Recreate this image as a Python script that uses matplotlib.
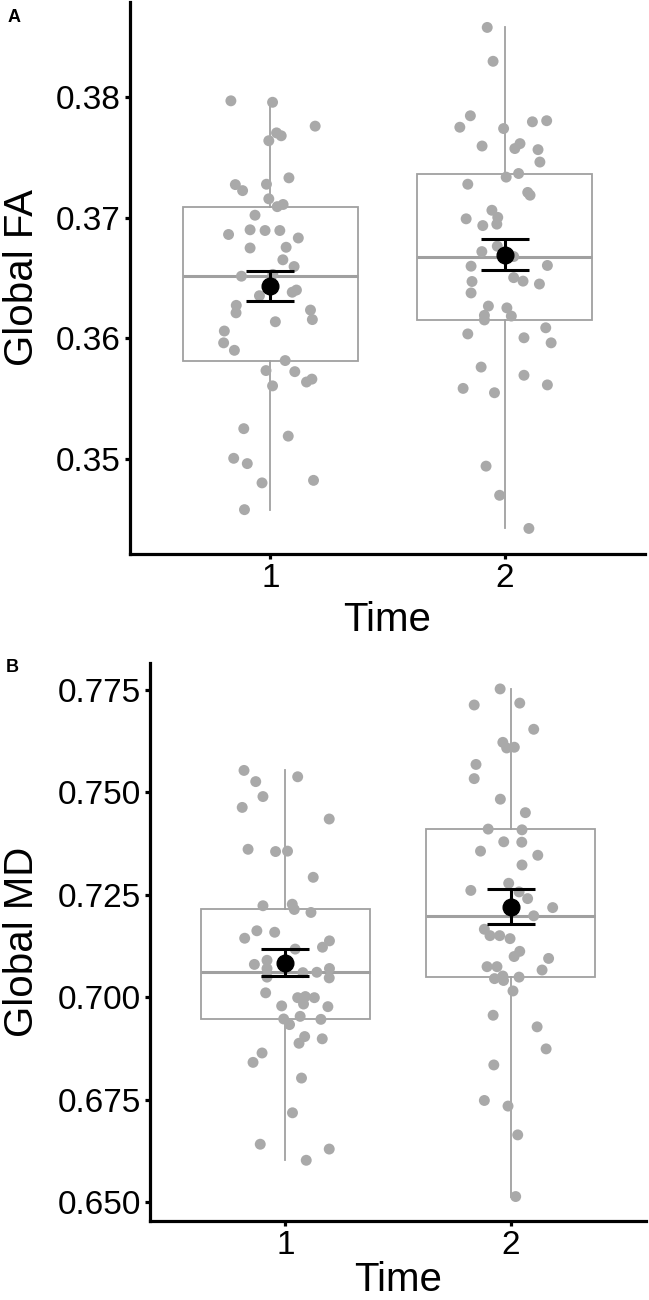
import numpy as np
import matplotlib.pyplot as plt

plt.rcParams['font.family'] = ['Liberation Sans', 'DejaVu Sans']

times = ['1', '2']

# Global FA, time 1 / time 2 (values and horizontal jitter)
fa_t1 = [0.37970, 0.37958, 0.37760, 0.37704, 0.37680, 0.37639, 0.37331, 0.37275, 0.37225, 0.37278,
         0.37157, 0.37092, 0.37110, 0.37021, 0.36861, 0.36900, 0.36894, 0.36894, 0.36832, 0.36749,
         0.36755, 0.36651, 0.36595, 0.36515, 0.36353, 0.36382, 0.36400, 0.36273, 0.36211, 0.36234,
         0.36155, 0.36137, 0.36060, 0.35962, 0.35900, 0.35815, 0.35732, 0.35723, 0.35637, 0.35661,
         0.35605, 0.35250, 0.35188, 0.35004, 0.34960, 0.34800, 0.34821, 0.34578, 0.36530]
fa_t1_jit = [-0.169, 0.009, 0.191, 0.026, 0.046, -0.007, 0.079, -0.150, -0.119, -0.017,
             -0.007, 0.029, 0.054, -0.066, -0.179, -0.087, -0.023, 0.040, 0.119, -0.087,
             0.067, 0.053, 0.101, -0.124, -0.047, 0.093, 0.111, -0.146, -0.147, 0.171,
             0.179, 0.021, -0.197, -0.200, -0.154, 0.063, -0.019, 0.104, 0.154, 0.177,
             0.009, -0.114, 0.076, -0.157, -0.099, -0.036, 0.184, -0.111, 0.010]
fa_t2 = [0.38579, 0.38298, 0.37846, 0.37751, 0.37740, 0.37796, 0.37805, 0.37595, 0.37574, 0.37615,
         0.37565, 0.37462, 0.37337, 0.37367, 0.37278, 0.37210, 0.37187, 0.37062, 0.37003, 0.36947,
         0.36991, 0.36935, 0.36764, 0.36719, 0.36678, 0.36598, 0.36604, 0.36503, 0.36474, 0.36450,
         0.36471, 0.36376, 0.36267, 0.36252, 0.36190, 0.36152, 0.36184, 0.36087, 0.36036, 0.36004,
         0.35962, 0.35761, 0.35693, 0.35613, 0.35584, 0.35548, 0.34939, 0.34697, 0.34422]
fa_t2_jit = [-0.074, -0.049, -0.146, -0.191, -0.004, 0.119, 0.180, -0.096, 0.044, 0.066,
             0.143, 0.151, 0.007, 0.060, -0.157, 0.099, 0.109, -0.054, -0.029, -0.033,
             -0.164, -0.093, -0.031, -0.097, 0.039, -0.143, 0.183, 0.039, 0.079, 0.149,
             -0.139, -0.143, -0.069, 0.010, -0.086, -0.086, 0.029, 0.176, -0.157, 0.083,
             0.199, -0.100, 0.083, 0.183, -0.177, -0.043, -0.079, -0.021, 0.104]

# Global MD, time 1 / time 2
md_t1 = [0.75538, 0.75383, 0.75265, 0.74900, 0.74635, 0.74352, 0.73613, 0.73558, 0.73568, 0.72929,
         0.72235, 0.72272, 0.72144, 0.72071, 0.71624, 0.71588, 0.71442, 0.71378, 0.71223, 0.71177,
         0.70803, 0.70903, 0.70703, 0.70493, 0.70602, 0.70611, 0.70703, 0.70474, 0.70109, 0.69991,
         0.70018, 0.69991, 0.69836, 0.69790, 0.69772, 0.69471, 0.69535, 0.69334, 0.69462, 0.69042,
         0.68878, 0.68987, 0.68641, 0.68412, 0.68029, 0.67181, 0.66414, 0.66296, 0.66022]
md_t1_jit = [-0.183, 0.055, -0.131, -0.099, -0.191, 0.195, -0.165, -0.043, 0.010, 0.124,
             -0.099, 0.031, 0.040, 0.114, -0.126, -0.047, -0.180, 0.196, 0.165, 0.044,
             -0.137, -0.081, -0.081, -0.081, 0.078, 0.140, 0.196, 0.195, -0.087, 0.055,
             0.089, 0.129, 0.081, -0.016, 0.189, -0.007, 0.066, 0.019, 0.158, 0.086,
             0.061, 0.164, -0.103, -0.143, 0.072, 0.032, -0.111, 0.195, 0.093]
md_t2 = [0.77527, 0.77135, 0.77181, 0.76542, 0.76223, 0.76086, 0.76104, 0.75684, 0.75338, 0.74836,
         0.74507, 0.74106, 0.74088, 0.73796, 0.73786, 0.73568, 0.73467, 0.73230, 0.72783, 0.72609,
         0.72573, 0.72409, 0.72190, 0.71989, 0.71661, 0.71505, 0.71505, 0.71432, 0.71122, 0.70995,
         0.70949, 0.70748, 0.70748, 0.70666, 0.70456, 0.70520, 0.70411, 0.70493, 0.70155, 0.69562,
         0.69279, 0.68741, 0.68349, 0.67482, 0.67345, 0.66642, 0.65137]
md_t2_jit = [-0.047, -0.162, 0.040, 0.102, -0.035, -0.018, 0.016, -0.154, -0.162, -0.046,
             0.065, -0.100, 0.050, -0.031, 0.049, -0.134, 0.120, 0.050, -0.009, -0.177,
             0.037, 0.075, 0.186, 0.102, -0.117, -0.092, -0.049, -0.003, 0.040, 0.015,
             0.168, -0.105, -0.061, 0.139, -0.072, -0.035, -0.032, 0.037, 0.010, -0.078,
             0.117, 0.157, -0.075, -0.117, -0.012, 0.031, 0.022]

fa_ticks = [0.35, 0.36, 0.37, 0.38]
md_ticks = [0.650, 0.675, 0.700, 0.725, 0.750, 0.775]

box_col = '#A0A0A0'
pt_col = '#A9A9A9'


def panel(ax, groups, jitters, ylim, yticks, fmt, ylabel, xlab_y, ylab_x):
    pos = [1, 2]
    ax.boxplot(groups, positions=pos, widths=0.75, showfliers=False, showcaps=False,
               patch_artist=True,
               boxprops=dict(facecolor='white', edgecolor=box_col, linewidth=1.3),
               whiskerprops=dict(color=box_col, linewidth=1.3),
               medianprops=dict(color=box_col, linewidth=2.2), zorder=1)
    for p, vals, jit in zip(pos, groups, jitters):
        v = np.array(vals)
        ax.scatter(p + np.array(jit), v, s=62, color=pt_col, edgecolors='none', zorder=2)
        m = v.mean()
        se = v.std(ddof=1) / np.sqrt(len(v))
        ax.errorbar(p, m, yerr=se, fmt='o', color='black', markersize=12,
                    capsize=17, elinewidth=2.2, capthick=2.2, zorder=3)
    ax.set_xlim(0.4, 2.6)
    ax.set_ylim(*ylim)
    ax.set_xticks(pos)
    ax.set_xticklabels(times)
    ax.set_yticks(yticks)
    ax.set_yticklabels([fmt % t for t in yticks])
    for s in ['top', 'right']:
        ax.spines[s].set_visible(False)
    for s in ['left', 'bottom']:
        ax.spines[s].set_linewidth(2.3)
        ax.spines[s].set_color('black')
    ax.tick_params(length=3.5, width=2.3, labelsize=24, pad=3, colors='black')
    ax.set_xlabel('Time', fontsize=29, va='center')
    ax.xaxis.set_label_coords(0.5, xlab_y)
    ax.set_ylabel(ylabel, fontsize=29, va='center')
    ax.yaxis.set_label_coords(ylab_x, 0.5)


fig = plt.figure(figsize=(6.49, 13), dpi=100)
ax_a = fig.add_axes([130 / 649, 1 - 554 / 1300, 515 / 649, 552 / 1300])
ax_b = fig.add_axes([150 / 649, 1 - 1221 / 1300, 496 / 649, 558 / 1300])

panel(ax_a, [fa_t1, fa_t2], [fa_t1_jit, fa_t2_jit], (0.3421, 0.3879), fa_ticks, '%.2f',
      'Global FA', -0.12, -0.21)
panel(ax_b, [md_t1, md_t2], [md_t1_jit, md_t2_jit], (0.6454, 0.7816), md_ticks, '%.3f',
      'Global MD', -0.106, -0.258)

fig.text(14 / 649, 1 - 18 / 1300, 'A', fontsize=13, fontweight='bold', ha='center', va='center')
fig.text(12 / 649, 1 - 668 / 1300, 'B', fontsize=13, fontweight='bold', ha='center', va='center')

fig.savefig('out.png', dpi=100)
